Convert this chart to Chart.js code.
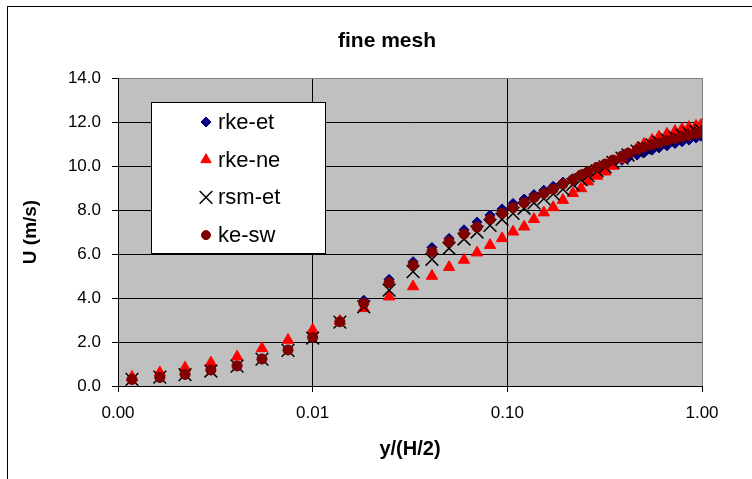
<!DOCTYPE html>
<html>
<head>
<meta charset="utf-8">
<script src="https://cdn.jsdelivr.net/npm/chart.js@4.4.0/dist/chart.umd.min.js"></script>
<style>
    html, body { margin: 0; padding: 0; background: #fff; }
</style>
</head>
<body>
<canvas id="fineMesh" width="752" height="479"></canvas>
<script>
// posizioni dei nodi della mesh, y/(H/2)
const yPos = [0.00118, 0.00164, 0.00221, 0.0030, 0.00409, 0.00549, 0.00747, 0.0100, 0.0138, 0.0183,
    0.0247, 0.0328, 0.0410, 0.0502, 0.0599, 0.0699, 0.0815, 0.0939, 0.107, 0.122,
    0.137, 0.154, 0.172, 0.193, 0.217, 0.239, 0.260, 0.289, 0.318, 0.349,
    0.388, 0.417, 0.464, 0.504, 0.554, 0.601, 0.661, 0.727, 0.790, 0.857,
    0.932, 0.988];

// U (m/s) per ogni modello
const rkeEt = [0.30, 0.38, 0.52, 0.72, 0.92, 1.22, 1.63, 2.22, 2.95, 3.90,
    4.85, 5.65, 6.30, 6.71, 7.10, 7.45, 7.77, 8.05, 8.30, 8.50,
    8.70, 8.90, 9.08, 9.27, 9.42, 9.55, 9.68, 9.85, 9.98, 10.12,
    10.26, 10.36, 10.50, 10.60, 10.72, 10.82, 10.92, 11.02, 11.10, 11.18,
    11.27, 11.35];
const rkeNe = [0.41, 0.61, 0.83, 1.06, 1.33, 1.71, 2.09, 2.55, 2.95, 3.53,
    4.06, 4.52, 5.00, 5.40, 5.73, 6.06, 6.40, 6.71, 7.01, 7.24,
    7.58, 7.88, 8.12, 8.45, 8.76, 8.98, 9.29, 9.55, 9.74, 10.00,
    10.30, 10.55, 10.80, 11.00, 11.18, 11.33, 11.46, 11.58, 11.68, 11.76,
    11.82, 11.86];
const rsmEt = [0.30, 0.40, 0.52, 0.68, 0.90, 1.22, 1.62, 2.18, 2.90, 3.60,
    4.36, 5.20, 5.76, 6.26, 6.68, 7.00, 7.30, 7.58, 7.85, 8.08,
    8.32, 8.52, 8.73, 8.95, 9.16, 9.38, 9.56, 9.78, 9.96, 10.16,
    10.36, 10.50, 10.68, 10.82, 10.96, 11.07, 11.19, 11.30, 11.40, 11.48,
    11.55, 11.62];
const keSw = [0.30, 0.39, 0.53, 0.73, 0.91, 1.23, 1.64, 2.21, 2.92, 3.76,
    4.70, 5.50, 6.10, 6.56, 6.91, 7.22, 7.58, 7.85, 8.11, 8.33,
    8.56, 8.76, 8.95, 9.18, 9.38, 9.59, 9.74, 9.94, 10.09, 10.27,
    10.45, 10.58, 10.74, 10.86, 10.97, 11.05, 11.16, 11.25, 11.33, 11.40,
    11.47, 11.52];

const seriesNames = ["rke-et", "rke-ne", "rsm-et", "ke-sw"];
const xTicks = [0.001, 0.01, 0.1, 1];
const yTicks = [0, 2, 4, 6, 8, 10, 12, 14];
const chartTitle = "fine mesh";

const FONT = "'Liberation Sans', Arial, sans-serif";

function toPoints(values) {
    return yPos.map((x, i) => ({ x: x, y: values[i] }));
}

// sfondo grigio dell'area del grafico, cornice esterna e titolo
const plotBackground = {
    id: "plotBackground",
    beforeDraw(chart) {
        const { ctx, chartArea: a } = chart;
        ctx.save();
        ctx.fillStyle = "#fff";
        ctx.fillRect(0, 0, chart.width, chart.height);
        ctx.strokeStyle = "#000";
        ctx.lineWidth = 1;
        ctx.strokeRect(7.5, 6.5, 900, 900);
        ctx.fillStyle = "#c0c0c0";
        ctx.fillRect(a.left, a.top, a.right - a.left, a.bottom - a.top);
        ctx.fillStyle = "#000";
        ctx.font = "bold 21px " + FONT;
        ctx.textAlign = "center";
        ctx.textBaseline = "middle";
        ctx.fillText(chartTitle, 387, 41);
        ctx.restore();
    },
};

// legenda dentro il grafico, riquadro bianco
const boxLegend = {
    id: "boxLegend",
    afterDraw(chart) {
        const ctx = chart.ctx;
        ctx.save();
        ctx.fillStyle = "#fff";
        ctx.fillRect(151.5, 102.5, 174, 151);
        ctx.strokeStyle = "#000";
        ctx.lineWidth = 1;
        ctx.strokeRect(151.5, 102.5, 174, 151);
        ctx.font = "22px " + FONT;
        ctx.textBaseline = "middle";
        chart.data.datasets.forEach((ds, row) => {
            const y = 122 + row * 37.7;
            ctx.fillStyle = ds.pointBackgroundColor;
            ctx.strokeStyle = ds.pointBorderColor;
            ctx.lineWidth = ds.pointBorderWidth;
            Chart.helpers.drawPoint(ctx, {
                pointStyle: ds.pointStyle,
                radius: ds.legendRadius,
                borderWidth: ds.pointBorderWidth,
                rotation: 0,
            }, 206, y);
            ctx.fillStyle = "#000";
            ctx.fillText(ds.label, 218, y + 1);
        });
        ctx.restore();
    },
};

const ctx = document.getElementById("fineMesh").getContext("2d");
new Chart(ctx, {
    type: "scatter",
    data: {
        datasets: [
            {
                label: seriesNames[0],
                data: toPoints(rkeEt),
                pointStyle: "rectRot",
                pointRadius: 5,
                legendRadius: 5,
                pointBackgroundColor: "#000080",
                pointBorderColor: "#000080",
                pointBorderWidth: 1,
                order: 3,
            },
            {
                label: seriesNames[1],
                data: toPoints(rkeNe),
                pointStyle: "triangle",
                pointRadius: 6.5,
                legendRadius: 6,
                pointBackgroundColor: "#ff0000",
                pointBorderColor: "#ff0000",
                pointBorderWidth: 1,
                order: 2,
            },
            {
                label: seriesNames[2],
                data: toPoints(rsmEt),
                pointStyle: "crossRot",
                pointRadius: 9,
                legendRadius: 9,
                pointBackgroundColor: "#000",
                pointBorderColor: "#000",
                pointBorderWidth: 1.5,
                order: 1,
            },
            {
                label: seriesNames[3],
                data: toPoints(keSw),
                pointStyle: "circle",
                pointRadius: 5,
                legendRadius: 4.5,
                pointBackgroundColor: "#800000",
                pointBorderColor: "#800000",
                pointBorderWidth: 1,
                order: 0,
            },
        ],
    },
    options: {
        responsive: false,
        animation: false,
        layout: { padding: { left: 0, right: 50, top: 78, bottom: 0 } },
        plugins: {
            legend: { display: false },
            tooltip: { enabled: false },
            title: { display: false },
        },
        scales: {
            x: {
                type: "logarithmic",
                min: 0.001,
                max: 1,
                afterBuildTicks: (s) => { s.ticks = xTicks.map((v) => ({ value: v })); },
                afterFit: (s) => { s.height = 93; },
                ticks: {
                    callback: (v) => Number(v).toFixed(2),
                    color: "#000",
                    font: { family: FONT, size: 17 },
                    padding: 11,
                    autoSkip: false,
                    maxRotation: 0,
                },
                grid: {
                    color: (c) => (c.tick && c.tick.value === 1 ? "#808080" : "#000"),
                    tickColor: "#000",
                    tickLength: 6,
                },
                border: { color: "#000", width: 1 },
                title: {
                    display: true,
                    text: "y/(H/2)",
                    color: "#000",
                    font: { family: FONT, size: 20, weight: "bold" },
                    padding: { bottom: 18 },
                },
            },
            y: {
                type: "linear",
                min: 0,
                max: 14,
                afterBuildTicks: (s) => { s.ticks = yTicks.map((v) => ({ value: v })); },
                afterFit: (s) => { s.width = 118; },
                ticks: {
                    callback: (v) => Number(v).toFixed(1),
                    color: "#000",
                    font: { family: FONT, size: 17 },
                    padding: 11,
                },
                grid: {
                    color: (c) => (c.tick && c.tick.value === 14 ? "#808080" : "#000"),
                    tickColor: "#000",
                    tickLength: 6,
                },
                border: { color: "#000", width: 1 },
                title: {
                    display: true,
                    text: "U (m/s)",
                    color: "#000",
                    font: { family: FONT, size: 19, weight: "bold" },
                    padding: { top: 19 },
                },
            },
        },
    },
    plugins: [plotBackground, boxLegend],
});
</script>
</body>
</html>
